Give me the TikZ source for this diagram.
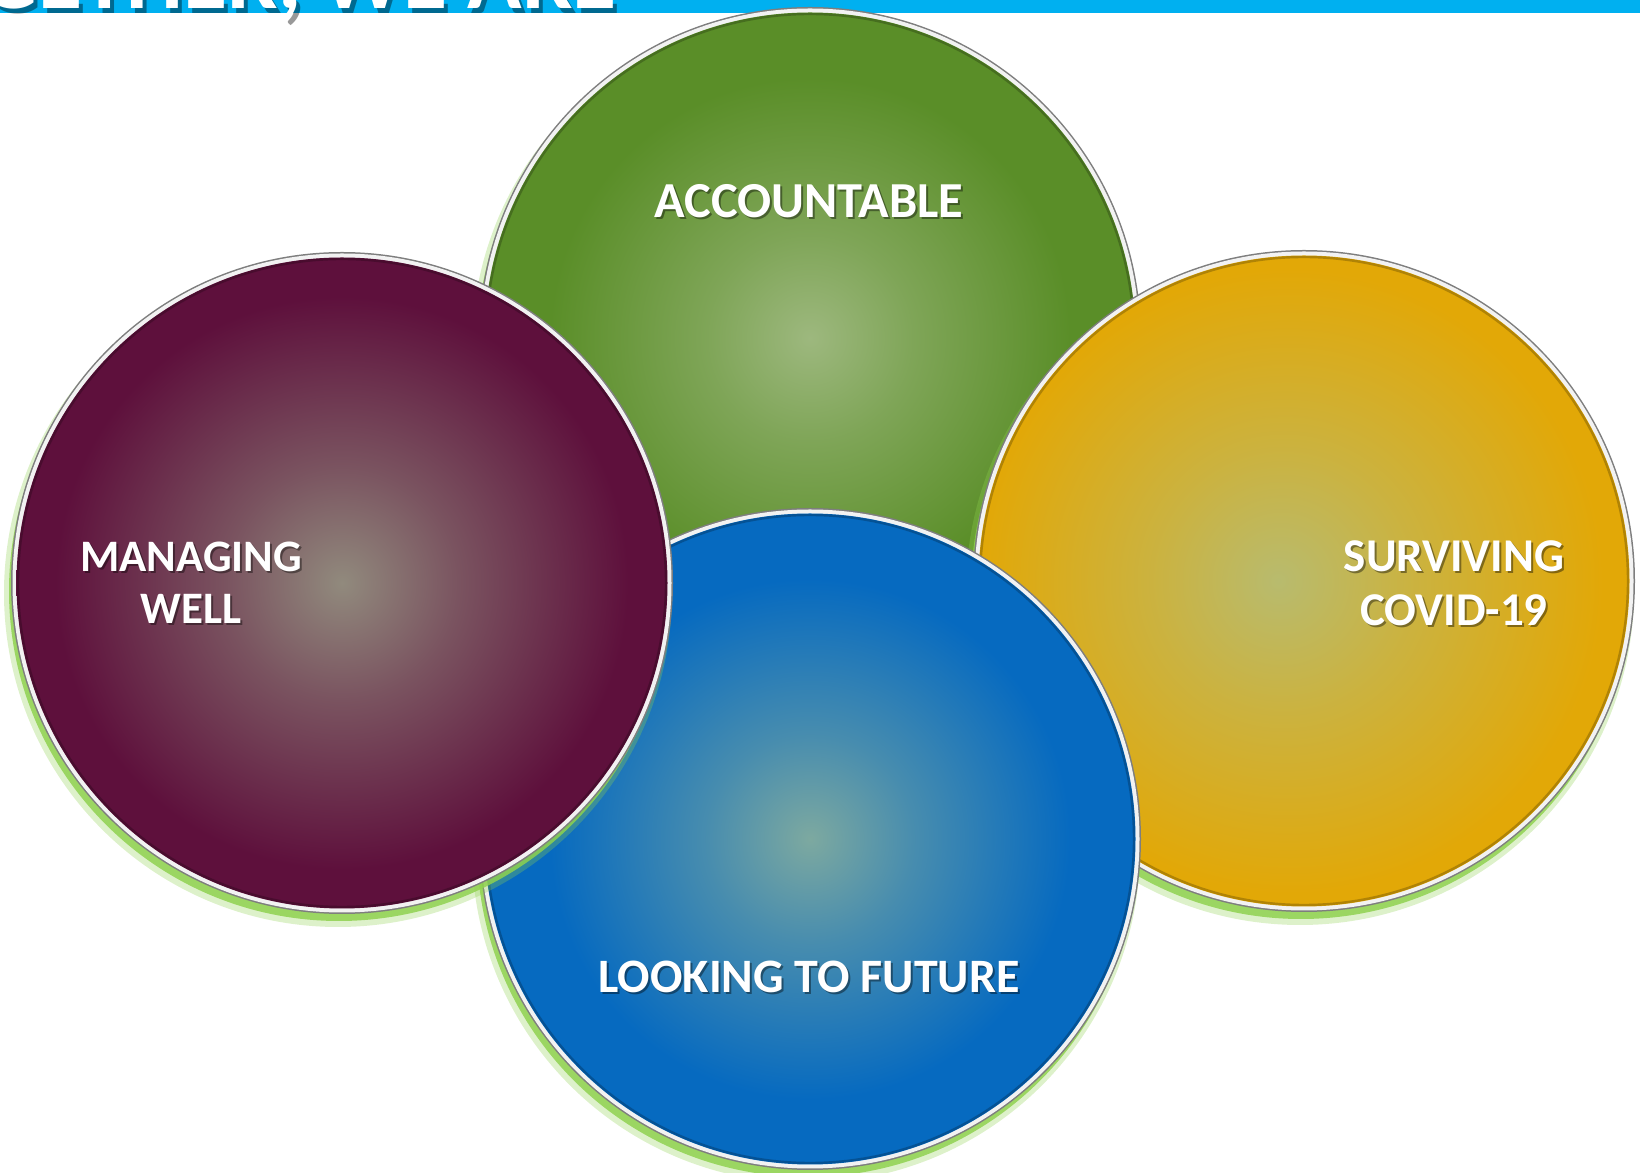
\documentclass[tikz,border=0pt]{standalone}
\usepackage{fontspec}
\setmainfont{Carlito}
\definecolor{BarCyan}{HTML}{00B0F0}
\definecolor{GlowLime}{HTML}{8FD14F}
\definecolor{RimGray}{HTML}{7E7E7E}
\definecolor{GreenEdge}{HTML}{5A8E28}
\definecolor{GreenCore}{HTML}{9DB87E}
\definecolor{MaroonEdge}{HTML}{5E103C}
\definecolor{MaroonCore}{HTML}{918A7D}
\definecolor{GoldEdge}{HTML}{E2A807}
\definecolor{GoldCore}{HTML}{B8BB6E}
\definecolor{BlueEdge}{HTML}{066AC0}
\definecolor{BlueCore}{HTML}{7DA9A0}
\pgfdeclareradialshading{greenball}{\pgfpoint{0bp}{0bp}}{color(0bp)=(GreenCore); color(8bp)=(GreenCore!55!GreenEdge); color(20bp)=(GreenEdge); color(50bp)=(GreenEdge)}
\pgfdeclareradialshading{maroonball}{\pgfpoint{0bp}{0bp}}{color(0bp)=(MaroonCore); color(9bp)=(MaroonCore!55!MaroonEdge); color(22bp)=(MaroonEdge); color(50bp)=(MaroonEdge)}
\pgfdeclareradialshading{goldball}{\pgfpoint{-2bp}{0bp}}{color(0bp)=(GoldCore); color(10bp)=(GoldCore!55!GoldEdge); color(24bp)=(GoldEdge); color(50bp)=(GoldEdge)}
\pgfdeclareradialshading{blueball}{\pgfpoint{0bp}{0bp}}{color(0bp)=(BlueCore); color(8bp)=(BlueCore!55!BlueEdge); color(20bp)=(BlueEdge); color(50bp)=(BlueEdge)}
\newcommand\balllabel[4]{%
  \node[label shadow, #3] (#1-shadow) at (#2) {#4};
  \node[label text, #3] (#1) at (#2) {#4};
}

\begin{document}
\begin{tikzpicture}[x=0.5pt, y=0.5pt,
    label text/.style={text=white, inner sep=0pt, align=center},
    label shadow/.style={text=black, opacity=0.4, inner sep=0pt, align=center,
      xshift=1pt, yshift=-1pt},
    one line/.style={font=\bfseries\fontsize{24}{29}\selectfont},
    two lines/.style={font=\bfseries\fontsize{22.5}{26}\selectfont}]
    \useasboundingbox (0,0) rectangle (1640,1173);
    \clip (0,0) rectangle (1640,1173);
    % top bar with cut title
    \fill[BarCyan] (0,1160) rectangle (1640,1173);
    \node[anchor=base east, inner sep=0pt, text=black, opacity=0.4,
      font=\bfseries\fontsize{45}{54}\selectfont, xshift=2pt, yshift=-2.5pt]
      (title-shadow) at (617,1164) {GETHER, WE ARE};
    \node[anchor=base east, inner sep=0pt, text=white,
      font=\bfseries\fontsize{45}{54}\selectfont]
      (title) at (617,1164) {GETHER, WE ARE};
    % four balls: green, gold, blue, maroon (back to front)
    \foreach \cx/\cy/\sh/\ln in {810/835/greenball/GreenEdge,
        1304/592/goldball/GoldEdge, 810/334/blueball/BlueEdge,
        342/590/maroonball/MaroonEdge} {
      \fill[GlowLime, opacity=0.3] (\cx-4,\cy-10) circle (334);
      \fill[GlowLime, opacity=0.85] (\cx-3,\cy-8) circle (330);
      \fill[RimGray] (\cx,\cy) circle (331);
      \fill[white!90!gray] (\cx,\cy) circle (329.5);
      \shade[shading=\sh] (\cx,\cy) circle (325.5);
      \draw[\ln!60!black, line width=1.2pt, opacity=0.55] (\cx,\cy) circle (324);
    }
    % labels
    \balllabel{accountable}{809,955}{one line, anchor=base,
      font=\bfseries\fontsize{25.2}{30}\selectfont}{ACCOUNTABLE}
    \balllabel{future}{809,180}{one line, anchor=base}{LOOKING TO FUTURE}
    \balllabel{managing}{191,631}{two lines, anchor=north}{MANAGING\\WELL}
    \balllabel{surviving}{1454,633}{two lines, anchor=north,
      font=\bfseries\fontsize{23.5}{27}\selectfont}{SURVIVING\\COVID-19}
\end{tikzpicture}
\end{document}
